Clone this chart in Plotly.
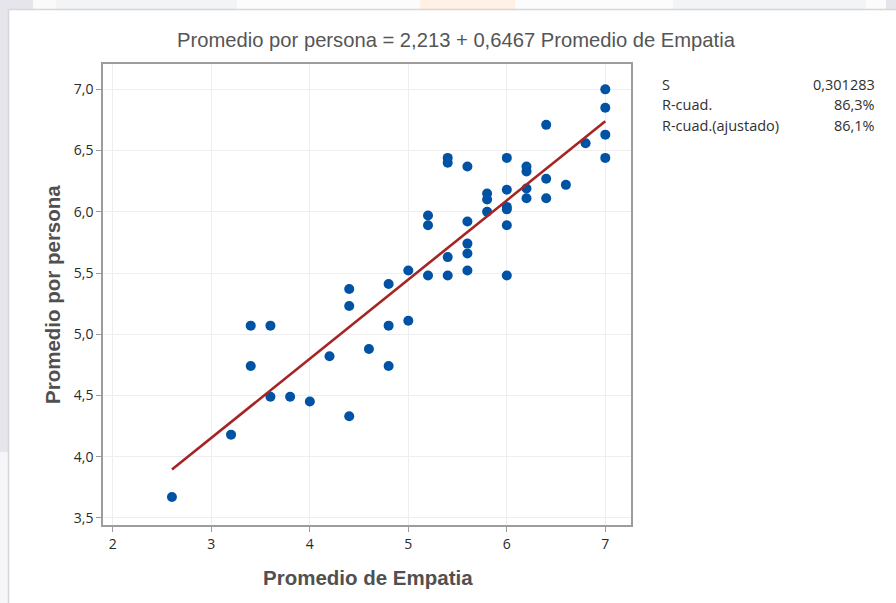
import plotly.graph_objects as go

# Observed pairs: Promedio de Empatia (x) vs Promedio por persona (y)
empatia = [
    2.6, 3.2, 3.4, 3.4, 3.6, 3.6, 3.8, 4.0, 4.2, 4.4, 4.4, 4.4, 4.6,
    4.8, 4.8, 4.8, 5.0, 5.0, 5.2, 5.2, 5.2, 5.4, 5.4, 5.4, 5.4,
    5.6, 5.6, 5.6, 5.6, 5.6, 5.8, 5.8, 5.8, 6.0, 6.0, 6.0, 6.0, 6.0, 6.0,
    6.2, 6.2, 6.2, 6.2, 6.4, 6.4, 6.4, 6.6, 6.8, 7.0, 7.0, 7.0, 7.0,
]
persona = [
    3.67, 4.18, 5.07, 4.74, 5.07, 4.49, 4.49, 4.45, 4.82, 5.37, 5.23, 4.33, 4.88,
    5.41, 5.07, 4.74, 5.52, 5.11, 5.97, 5.89, 5.48, 6.44, 6.40, 5.63, 5.48,
    6.37, 5.92, 5.74, 5.66, 5.52, 6.15, 6.10, 6.00, 6.44, 6.18, 6.04, 6.02, 5.89, 5.48,
    6.37, 6.33, 6.19, 6.11, 6.71, 6.27, 6.11, 6.22, 6.56, 7.00, 6.85, 6.63, 6.44,
]

# Fitted regression: Promedio por persona = b0 + b1 * Promedio de Empatia
b0 = 2.213
b1 = 0.6467

# Model summary
stat_names = ["S", "R-cuad.", "R-cuad.(ajustado)"]
stat_values = ["0,301283", "86,3%", "86,1%"]

x_ticks = [2, 3, 4, 5, 6, 7]
y_ticks = [3.5, 4.0, 4.5, 5.0, 5.5, 6.0, 6.5, 7.0]

W, H = 896, 603
ML, MR, MT, MB = 103, 265, 64, 78
PW, PH = W - ML - MR, H - MT - MB


def px(xp):
    return (xp - ML) / PW


def py(yp):
    return (H - MB - yp) / PH


x_fit = [min(empatia), max(empatia)]
y_fit = [b0 + b1 * v for v in x_fit]

fig = go.Figure()
fig.add_trace(go.Scatter(
    x=empatia, y=persona, mode="markers",
    marker=dict(size=10, color="#0053a4"),
    hoverinfo="x+y", showlegend=False,
))
fig.add_trace(go.Scatter(
    x=x_fit, y=y_fit, mode="lines",
    line=dict(color="#a52524", width=2.6),
    showlegend=False,
))

axis_common = dict(
    showline=True, mirror=True, linecolor="#9c9c9c", linewidth=1.5,
    ticks="outside", ticklen=5, tickcolor="#9c9c9c", tickwidth=1,
    showgrid=True, gridcolor="#eeeeee", gridwidth=1, zeroline=False,
    tickfont=dict(family="Open Sans, Noto Sans, sans-serif", size=14, color="#2a2a2a"),
)

fig.update_xaxes(range=[1.900, 7.261], tickvals=x_ticks,
                 ticktext=[str(v) for v in x_ticks], **axis_common)
fig.update_yaxes(range=[3.442, 7.207], tickvals=y_ticks,
                 ticktext=[f"{v:.1f}".replace(".", ",") for v in y_ticks], **axis_common)

title_font = dict(family="Liberation Sans, Arial, sans-serif", size=20.5, color="#505050")
annotations = [
    dict(text="<b>Promedio de Empatia</b>", xref="paper", yref="paper",
         x=px(368), y=py(577), showarrow=False, xanchor="center", yanchor="middle",
         font=title_font),
    dict(text="<b>Promedio por persona</b>", xref="paper", yref="paper",
         x=px(52), y=py(295), showarrow=False, xanchor="center", yanchor="middle",
         textangle=-90, font=title_font),
]

stat_font = dict(family="Open Sans, Noto Sans, sans-serif", size=14.5, color="#303030")
row_y = [85, 104, 125]
for name, val, yy in zip(stat_names, stat_values, row_y):
    annotations.append(dict(text=name, xref="paper", yref="paper", x=px(660), y=py(yy),
                            showarrow=False, xanchor="left", yanchor="middle", font=stat_font))
    annotations.append(dict(text=val, xref="paper", yref="paper", x=px(877), y=py(yy),
                            showarrow=False, xanchor="right", yanchor="middle", font=stat_font))

# window chrome around the chart panel
shapes = []
top_bands = [
    (0, 33, "#e5e5eb"), (33, 56, "#fafafa"), (56, 237, "#f3f4f6"), (237, 420, "#fcfcfc"),
    (420, 515, "#fff1e5"), (515, 673, "#fcfcfc"), (673, 866, "#f3f4f6"),
    (866, 886, "#fbfbfb"), (886, 896, "#e5e5eb"),
]
for x0, x1, c in top_bands:
    shapes.append(dict(type="rect", xref="paper", yref="paper", x0=px(x0), x1=px(x1),
                       y0=py(0), y1=py(9), fillcolor=c, line=dict(width=0), layer="below"))
shapes.append(dict(type="rect", xref="paper", yref="paper", x0=px(0), x1=px(8),
                   y0=py(9), y1=py(452), fillcolor="#e5e5eb", line=dict(width=0), layer="below"))
shapes.append(dict(type="rect", xref="paper", yref="paper", x0=px(0), x1=px(8),
                   y0=py(452), y1=py(603), fillcolor="#f6f6f8", line=dict(width=0), layer="below"))
shapes.append(dict(type="line", xref="paper", yref="paper", x0=px(8.5), x1=px(896),
                   y0=py(9.5), y1=py(9.5), line=dict(color="#d6d6da", width=1.5)))
shapes.append(dict(type="line", xref="paper", yref="paper", x0=px(8.5), x1=px(8.5),
                   y0=py(9.5), y1=py(603), line=dict(color="#d6d6da", width=1.5)))

fig.update_layout(
    width=W, height=H,
    margin=dict(l=ML, r=MR, t=MT, b=MB),
    paper_bgcolor="white", plot_bgcolor="white",
    title=dict(text="Promedio por persona = 2,213 + 0,6467 Promedio de Empatia",
               x=456 / W, xanchor="center", y=1 - 40 / H, yanchor="middle",
               font=dict(family="Liberation Sans, Arial, sans-serif", size=20.2, color="#555555")),
    annotations=annotations,
    shapes=shapes,
    showlegend=False,
)

fig.write_html("out.html")
